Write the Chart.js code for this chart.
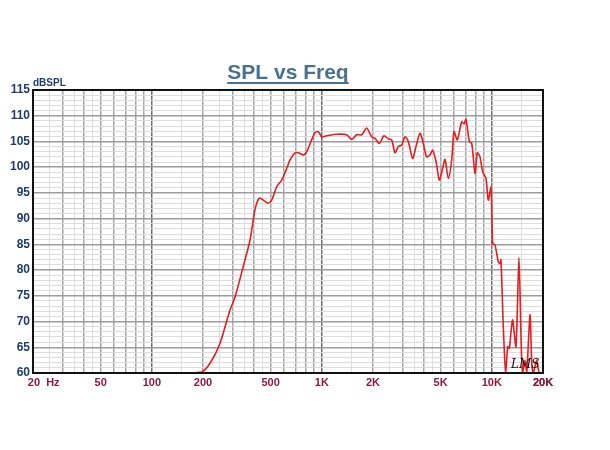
<!DOCTYPE html>
<html>
<head>
<meta charset="utf-8">
<script src="https://cdn.jsdelivr.net/npm/chart.js@4.4.1/dist/chart.umd.min.js"></script>
<style>
  body { margin: 0; background: #fff; }
  #wrap { width: 610px; height: 450px; }
</style>
</head>
<body>
<div id="wrap"><canvas id="canvas_spl" width="610" height="450"></canvas></div>
<script>
    // curva de resposta (Hz / dBSPL)
    var freqHz = [57, 100, 150, 196, 220, 252, 288, 309, 345, 378, 404, 429, 453, 484, 507, 543, 581, 622, 650, 695,
        728, 778, 815, 871, 912, 954, 998, 1068, 1222, 1400, 1500, 1604, 1718, 1836, 1964, 2056, 2178, 2322, 2460, 2576,
        2694, 2820, 2950, 3086, 3228, 3420, 3580, 3778, 3952, 4136, 4328, 4490, 4696, 4910, 5140, 5306, 5550, 5806, 5990, 6266,
        6648, 6854, 7048, 7368, 7620, 7962, 8220, 8516, 8834, 9240, 9532, 9888, 10118, 10440, 10916, 11170, 11320, 11680, 12068, 12400,
        12674, 12968, 13270, 13872, 14440, 14900, 15200, 15670, 16036, 16772, 17180, 17540, 18360, 19020, 20000];
    var splDb = [60, 60, 60, 60.2, 61.9, 65.8, 72.2, 74.8, 80.7, 85.8, 91.7, 94.0, 93.6, 93.0, 93.6, 96.2, 97.5, 99.8, 101.4, 102.8,
        102.8, 102.4, 103.0, 105.3, 106.7, 106.9, 105.9, 106.1, 106.4, 106.3, 105.4, 106.3, 106.3, 107.6, 105.9, 105.6, 104.6, 106.1, 105.5, 105.3,
        102.8, 104.0, 104.3, 105.9, 105.0, 101.7, 104.0, 106.6, 104.6, 102.0, 102.4, 103.3, 101.1, 97.5, 99.8, 101.5, 97.8, 101.4, 106.9, 105.3,
        108.8, 108.4, 109.3, 105.0, 104.6, 98.8, 102.8, 102.0, 99.1, 97.8, 93.6, 96.1, 85.2, 84.9, 81.6, 81.3, 82.0, 69.0, 60, 65.1,
        64.8, 68.0, 70.3, 65.1, 82.5, 65.1, 60, 62.5, 60, 71.3, 61.9, 60, 62.5, 60, 60];

    // rótulos do eixo x
    var xLabelFreqs = [20, 50, 100, 200, 500, 1000, 2000, 5000, 10000, 20000];
    var xLabels = ['       20  Hz', '50', '100', '200', '500', '1K', '2K', '5K', '10K', '20K'];
    var yMin = 60;
    var yMax = 115;

    // linhas da grade vertical (1..9 por década + meias)
    var gridFreqs = [];
    [10, 100, 1000, 10000].forEach(d => {
        [1, 1.5, 2, 2.5, 3, 3.5, 4, 4.5, 5, 6, 7, 8, 9].forEach(m => {
            var f = m * d;
            if (f >= 20 && f <= 20000) gridFreqs.push(f);
        });
    });
    gridFreqs.push(20000);

    var pontos = freqHz.map((f, i) => ({ x: f, y: splDb[i] }));

    function mantissa(v) {
        return v / Math.pow(10, Math.floor(Math.log10(v) + 1e-9));
    }

    var textos = {
        id: 'textos',
        afterDatasetsDraw(chart) {
            var ctx = chart.ctx;
            var a = chart.chartArea;
            ctx.save();
            // moldura
            ctx.strokeStyle = '#111';
            ctx.lineWidth = 2;
            ctx.strokeRect(a.left, a.top, a.right - a.left, a.bottom - a.top);
            // título sublinhado
            ctx.font = 'bold 21px "Liberation Sans", Arial, sans-serif';
            ctx.fillStyle = '#4a7290';
            ctx.textAlign = 'center';
            ctx.textBaseline = 'alphabetic';
            var t = 'SPL vs Freq';
            ctx.fillText(t, 288, 79);
            var w = ctx.measureText(t).width;
            ctx.strokeStyle = '#4a7290';
            ctx.lineWidth = 2;
            ctx.beginPath();
            ctx.moveTo(288 - w / 2, 83);
            ctx.lineTo(288 + w / 2, 83);
            ctx.stroke();
            // unidade
            ctx.font = 'bold 10px "Liberation Sans", Arial, sans-serif';
            ctx.fillStyle = '#1f3c6e';
            ctx.textAlign = 'left';
            ctx.fillText('dBSPL', 33, 86);
            // assinatura
            ctx.font = 'italic 12px "DejaVu Serif", serif';
            ctx.fillStyle = '#111';
            ctx.fillText('LMS', 511, 368);
            ctx.restore();
        }
    };

    var graficoSpl = new Chart(document.getElementById('canvas_spl'), {
        type: 'line',
        data: {
            datasets: [{
                label: 'SPL',
                data: pontos,
                borderColor: '#e31e24',
                borderWidth: 1.6,
                pointRadius: 0,
                tension: 0.25,
                fill: false
            }]
        },
        options: {
            responsive: false,
            animation: false,
            layout: { padding: { top: 90, right: 67, left: 0, bottom: 0 } },
            plugins: {
                legend: { display: false },
                tooltip: { enabled: false }
            },
            scales: {
                x: {
                    type: 'logarithmic',
                    min: 20,
                    max: 20000,
                    afterBuildTicks: scale => {
                        scale.ticks = gridFreqs.map(v => ({ value: v }));
                    },
                    afterFit: scale => { scale.height = 77; },
                    ticks: {
                        autoSkip: false,
                        maxRotation: 0,
                        padding: 3,
                        color: '#8e1b3e',
                        font: { family: '"Liberation Sans", Arial, sans-serif', size: 11, weight: 'bold' },
                        callback: function (v) {
                            var i = xLabelFreqs.indexOf(v);
                            return i >= 0 ? xLabels[i] : '';
                        }
                    },
                    grid: {
                        drawTicks: false,
                        color: ctx => {
                            var m = mantissa(ctx.tick ? ctx.tick.value : 1);
                            if (Math.abs(m - 1) < 0.01) return '#6e6e6e';
                            return Math.abs(m - Math.round(m)) < 0.01 ? '#a6a6a6' : '#dedede';
                        },
                        lineWidth: ctx => {
                            var m = mantissa(ctx.tick ? ctx.tick.value : 1);
                            return Math.abs(m - Math.round(m)) < 0.01 ? 1.5 : 1;
                        }
                    },
                    border: { color: '#111', width: 2 }
                },
                y: {
                    min: yMin,
                    max: yMax,
                    afterFit: scale => { scale.width = 33; },
                    ticks: {
                        stepSize: 1,
                        autoSkip: false,
                        padding: 3,
                        color: '#1f3c6e',
                        font: { family: '"Liberation Sans", Arial, sans-serif', size: 12, weight: 'bold' },
                        callback: v => (v % 5 === 0 ? v : '')
                    },
                    grid: {
                        drawTicks: false,
                        color: ctx => (ctx.tick && ctx.tick.value % 5 === 0 ? '#9c9c9c' : '#dcdcdc'),
                        lineWidth: ctx => (ctx.tick && ctx.tick.value % 5 === 0 ? 1.5 : 1)
                    },
                    border: { color: '#111', width: 2 }
                }
            }
        },
        plugins: [textos]
    });
</script>
</body>
</html>
